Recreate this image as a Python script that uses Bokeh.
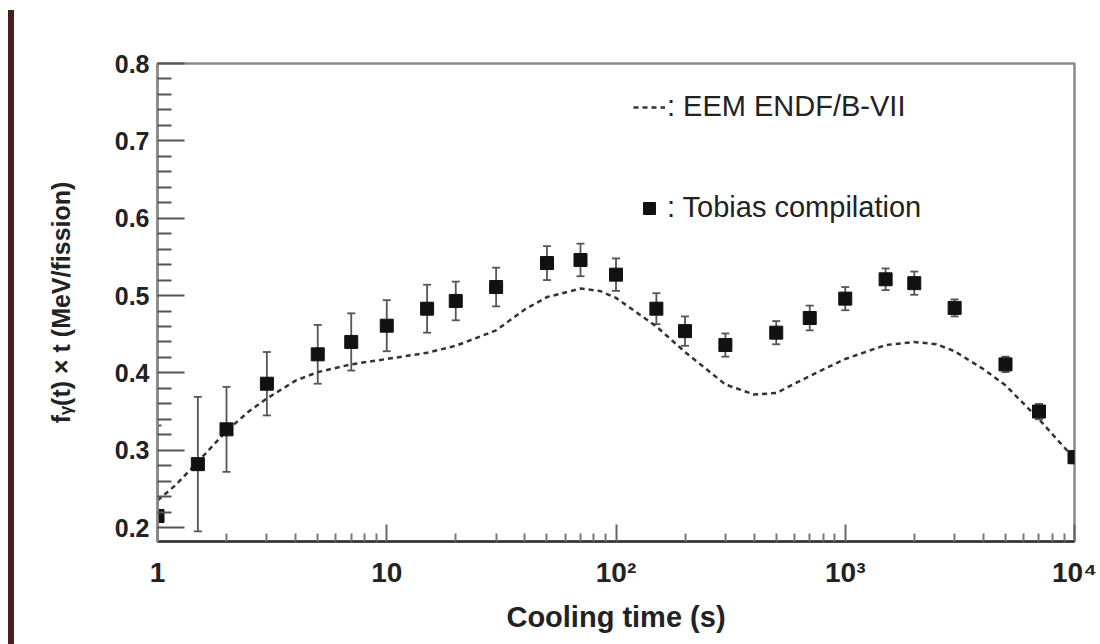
from bokeh.plotting import figure
from bokeh.layouts import row
from bokeh.models import (Range1d, FixedTicker, Whisker, TeeHead, ColumnDataSource,
                          Legend, LegendItem, Div)
from bokeh.embed import file_html
from bokeh.resources import INLINE

# ---- data ----
t_points = [1, 1.5, 2, 3, 5, 7, 10, 15, 20, 30, 50, 70, 100, 150, 200, 300,
            500, 700, 1000, 1500, 2000, 3000, 5000, 7000, 10000]
tobias = [0.215, 0.282, 0.327, 0.386, 0.424, 0.440, 0.461, 0.483, 0.493, 0.511,
          0.542, 0.546, 0.527, 0.483, 0.454, 0.436, 0.452, 0.471, 0.496, 0.521,
          0.516, 0.484, 0.411, 0.350, 0.291]
tobias_err = [0.117, 0.087, 0.055, 0.041, 0.038, 0.037, 0.033, 0.031, 0.025, 0.025,
              0.022, 0.021, 0.021, 0.020, 0.019, 0.015, 0.015, 0.016, 0.015, 0.014,
              0.015, 0.011, 0.010, 0.010, 0.008]

t_curve = [1, 1.2, 1.5, 2, 2.5, 3, 4, 5, 7, 10, 15, 20, 30, 40, 50, 70, 85, 100,
           150, 200, 300, 400, 500, 700, 1000, 1500, 2000, 2500, 3000, 4000, 5000,
           7000, 10000]
eem = [0.235, 0.255, 0.285, 0.325, 0.350, 0.367, 0.390, 0.401, 0.411, 0.418, 0.426,
       0.435, 0.455, 0.482, 0.498, 0.509, 0.506, 0.497, 0.460, 0.427, 0.385, 0.372,
       0.374, 0.396, 0.418, 0.436, 0.440, 0.437, 0.428, 0.405, 0.384, 0.340, 0.289]

x_major = [1, 10, 100, 1000, 10000]
x_labels = ["1", "10", "10\u00b2", "10\u00b3", "10\u2074"]
y_major = [0.2, 0.3, 0.4, 0.5, 0.6, 0.7, 0.8]

FONT = "Liberation Sans"

p = figure(width=1086, height=644, x_axis_type="log",
           x_range=Range1d(1, 1e4), y_range=Range1d(0.182, 0.8),
           output_backend="svg", toolbar_location=None,
           min_border_left=143, min_border_right=26,
           min_border_top=63, min_border_bottom=103)
p.xgrid.visible = False
p.ygrid.visible = False
p.outline_line_color = "#8a8a8a"
p.outline_line_width = 2.5
p.background_fill_color = "white"
p.border_fill_color = "white"

# x axis
x_minor = [m * d for d in x_major[:-1] for m in range(2, 10)]
p.xaxis.ticker = FixedTicker(ticks=x_major, minor_ticks=x_minor)
p.xaxis.major_label_overrides = {v: l for v, l in zip(x_major, x_labels)}
p.xaxis.major_tick_in = 17
p.xaxis.major_tick_out = 0
p.xaxis.minor_tick_in = 8
p.xaxis.minor_tick_out = 0
p.xaxis.major_tick_line_color = "#666666"
p.xaxis.minor_tick_line_color = "#777777"
p.xaxis.major_tick_line_width = 2
p.xaxis.minor_tick_line_width = 2
p.xaxis.axis_line_color = "#333333"
p.xaxis.axis_line_width = 2.5
p.xaxis.major_label_standoff = 15
p.xaxis.major_label_text_font_size = "28px"
p.xaxis.axis_label = "Cooling time (s)"
p.xaxis.axis_label_standoff = 10
p.xaxis.axis_label_text_font_size = "29px"

# y axis
y_minor = [round(0.2 + 0.02 * i, 2) for i in range(31) if i % 5 != 0]
p.yaxis.ticker = FixedTicker(ticks=y_major, minor_ticks=y_minor)
p.yaxis.major_tick_in = 27
p.yaxis.major_tick_out = 0
p.yaxis.minor_tick_in = 14
p.yaxis.minor_tick_out = 0
p.yaxis.major_tick_line_color = "#555555"
p.yaxis.minor_tick_line_color = "#555555"
p.yaxis.major_tick_line_width = 2
p.yaxis.minor_tick_line_width = 2
p.yaxis.axis_line_color = "#8a8a8a"
p.yaxis.axis_line_width = 2.5
p.yaxis.major_label_standoff = 8
p.yaxis.major_label_text_font_size = "25px"
p.yaxis.axis_label = "f\u1d67(t) \u00d7 t (MeV/fission)"
p.yaxis.axis_label_standoff = 37
p.yaxis.axis_label_text_font_size = "25px"

for ax in (p.xaxis, p.yaxis):
    ax.major_label_text_font = FONT
    ax.major_label_text_font_style = "bold"
    ax.major_label_text_color = "#222222"
    ax.axis_label_text_font = FONT
    ax.axis_label_text_font_style = "bold"
    ax.axis_label_text_color = "#222222"

# data
src = ColumnDataSource(dict(
    t=t_points, y=tobias,
    lo=[v - e for v, e in zip(tobias, tobias_err)],
    hi=[v + e for v, e in zip(tobias, tobias_err)]))

curve = p.line(t_curve, eem, line_dash="5 4", line_width=2.5, line_color="#333333")

wh = Whisker(source=src, base="t", lower="lo", upper="hi", dimension="height",
             line_color="#555555", line_width=1.8,
             lower_head=TeeHead(size=8, line_color="#555555", line_width=1.8),
             upper_head=TeeHead(size=8, line_color="#555555", line_width=1.8))
p.add_layout(wh)

pts = p.scatter("t", "y", source=src, marker="square", size=13,
                fill_color="#111111", line_color="#111111")

legend = Legend(items=[LegendItem(label=": EEM ENDF/B-VII", renderers=[curve]),
                       LegendItem(label=": Tobias compilation", renderers=[pts])],
                location=(476, 317), orientation="vertical",
                border_line_alpha=0, background_fill_alpha=0,
                label_text_font=FONT, label_text_font_size="29px",
                label_text_color="#222222",
                glyph_width=32, glyph_height=30, label_height=30,
                label_standoff=2, spacing=68, padding=0, margin=0)
p.add_layout(legend, "center")

# slide decoration: dark vertical bar at the left of the page
bar = Div(width=6, height=634, margin=(10, 0, 0, 8),
          styles={"background-color": "#4a1c1c"})

layout = row(bar, p)
open("out.html", "w").write(file_html(layout, INLINE))
